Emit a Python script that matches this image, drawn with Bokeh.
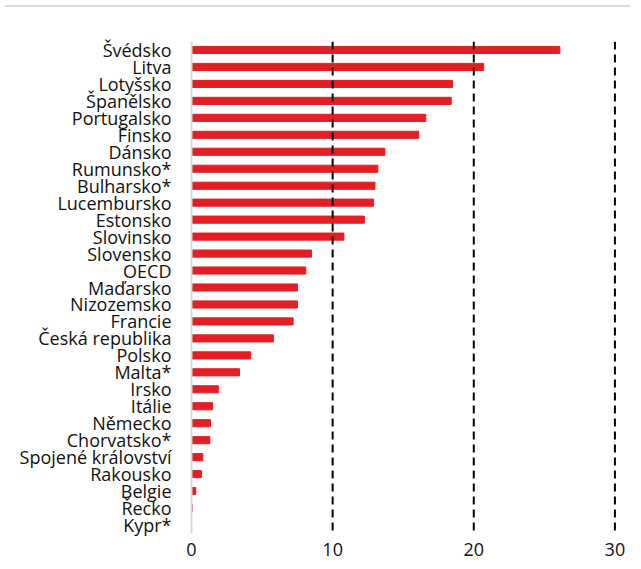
from bokeh.plotting import figure
from bokeh.models import Range1d, FactorRange, Span, Div
from bokeh.layouts import column
from bokeh.embed import file_html
from bokeh.resources import INLINE

countries = ["Švédsko", "Litva", "Lotyšsko", "Španělsko", "Portugalsko", "Finsko", "Dánsko",
             "Rumunsko*", "Bulharsko*", "Lucembursko", "Estonsko", "Slovinsko", "Slovensko", "OECD",
             "Maďarsko", "Nizozemsko", "Francie", "Česká republika", "Polsko", "Malta*", "Irsko",
             "Itálie", "Německo", "Chorvatsko*", "Spojené království", "Rakousko", "Belgie",
             "Řecko", "Kypr*"]
values = [26.1, 20.7, 18.5, 18.4, 16.6, 16.1, 13.7, 13.2, 13.0, 12.9, 12.25, 10.8, 8.5, 8.1,
          7.5, 7.5, 7.2, 5.8, 4.2, 3.4, 1.9, 1.5, 1.35, 1.3, 0.8, 0.7, 0.3, 0.05, 0.0]
x_ticks = [0, 10, 20, 30]
ref_lines = [10, 20, 30]

FONT = "Open Sans"

p = figure(width=625, height=551, output_backend="svg", toolbar_location=None,
           y_range=FactorRange(*reversed(countries), range_padding=0),
           x_range=Range1d(0, 30.75),
           min_border_left=191, min_border_right=0, min_border_top=29, min_border_bottom=30)

p.hbar(y=countries, right=values, left=0, height=0.42, color="#e31e24")

for v in ref_lines:
    p.add_layout(Span(location=v, dimension="height", line_color="black",
                      line_width=2, line_dash="8 5"))

p.xgrid.visible = False
p.ygrid.visible = False
p.outline_line_color = None

p.xaxis.ticker = x_ticks
p.xaxis.axis_line_color = None
p.xaxis.major_tick_line_color = None
p.xaxis.minor_tick_line_color = None
p.xaxis.major_label_text_font = FONT
p.xaxis.major_label_text_font_size = "18px"
p.xaxis.major_label_text_color = "#111111"
p.xaxis.major_label_standoff = 3

p.yaxis.axis_line_color = "#d9d9d9"
p.yaxis.axis_line_width = 2
p.yaxis.major_tick_line_color = None
p.yaxis.minor_tick_line_color = None
p.yaxis.major_label_text_font = FONT
p.yaxis.major_label_text_font_size = "18px"
p.yaxis.major_label_text_color = "#111111"
p.yaxis.major_label_standoff = 14

top_rule = Div(text="", width=625, height=2, styles={"background-color": "#d9d9d9"})

layout = column(top_rule, p, spacing=0)
open("out.html", "w").write(file_html(layout, INLINE))
